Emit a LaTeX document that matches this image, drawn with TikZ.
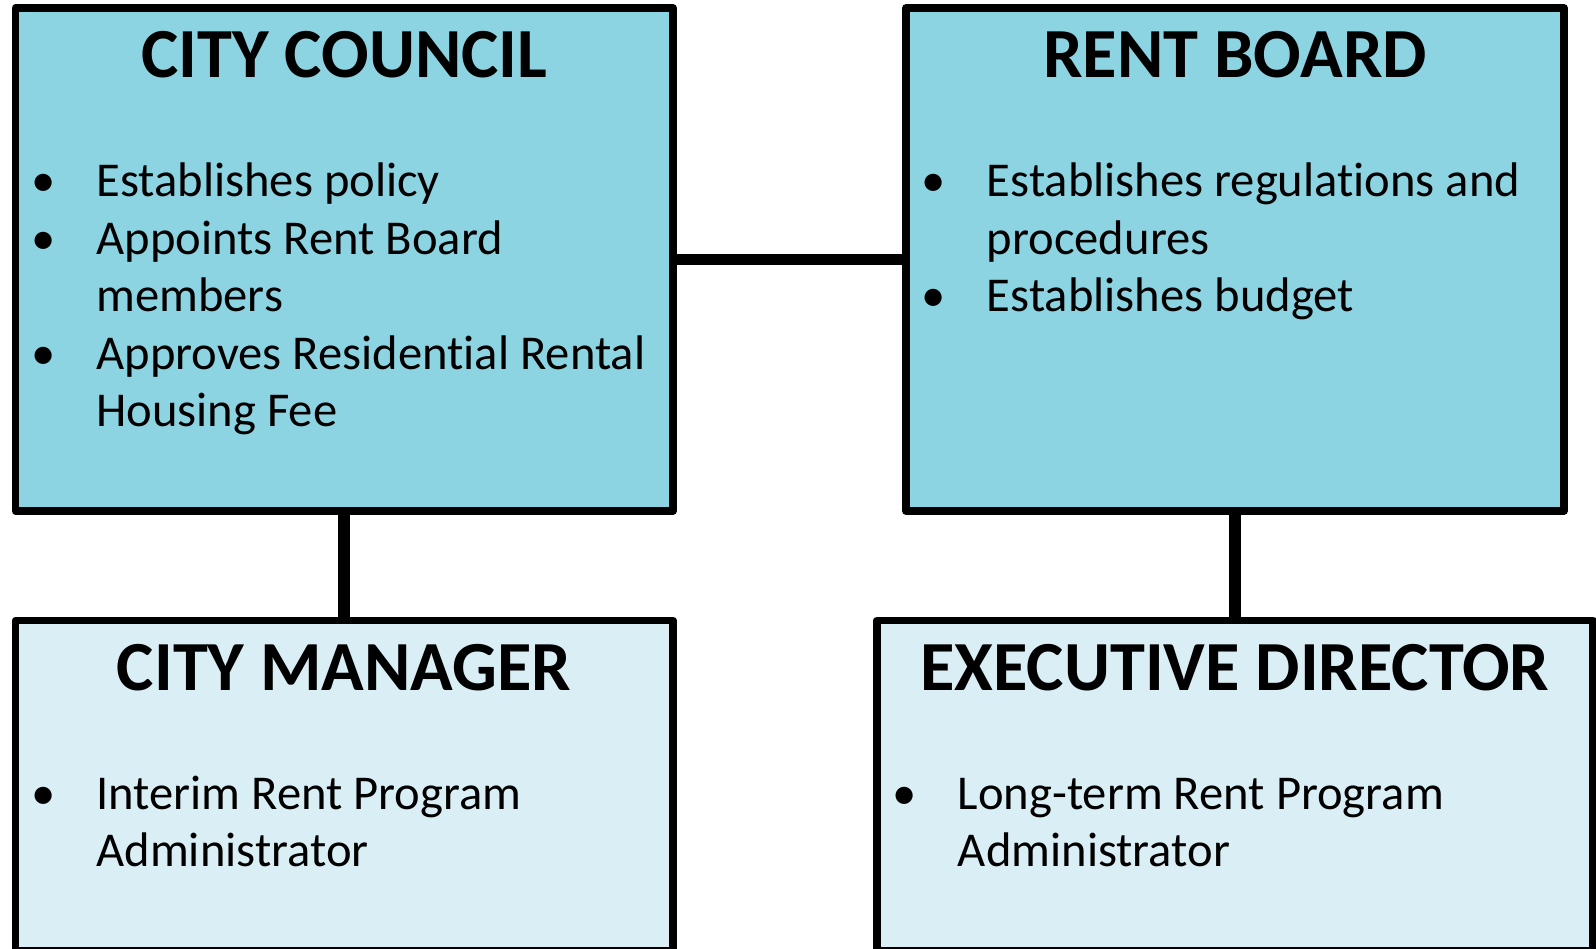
\documentclass[tikz,border=0pt]{standalone}
\usepackage{fontspec}
\setmainfont{Carlito}[Ligatures=NoCommon]
\usetikzlibrary{positioning}
\definecolor{boardFill}{HTML}{8CD4E2}
\definecolor{staffFill}{HTML}{DAEFF5}
\newcommand{\bul}{\makebox[27.5pt]{\textbullet}}
\tikzset{
  orgbox/.style={draw=black, line width=3.75pt, line join=round, rectangle,
    inner sep=0pt, outer sep=0pt},
  boardbox/.style={orgbox, fill=boardFill},
  staffbox/.style={orgbox, fill=staffFill},
  boxtitle/.style={anchor=base, inner sep=0pt, font=\bfseries\fontsize{35.2}{42}\selectfont},
  duties/.style={anchor=base west, inner sep=0pt, font=\fontsize{24.3}{28.75}\selectfont},
  link/.style={draw=black, line width=5.8pt},
}

\begin{document}
\begin{tikzpicture}[x=0.5pt, y=-0.5pt]
  \path[use as bounding box, clip] (0,0) rectangle (1596,948);

  % ===== Upper row: council and board =====
  \node[boardbox, minimum width=328.75pt, minimum height=251.5pt] (cc) at (344.25,259.5) {};
  \node[boardbox, minimum width=329pt, minimum height=251.5pt] (rb) at (1235,259.5) {};

  % ===== Lower row: runs past the page bottom =====
  \node[staffbox, minimum width=328.75pt, minimum height=165.25pt] (cm) at (344.25,785.75) {};
  \node[staffbox, minimum width=358pt, minimum height=165.25pt] (ed) at (1235,785.75) {};

  % titles
  \node[boxtitle] (cc-title) at ([yshift=-34.75pt]cc.north) {CITY COUNCIL};
  \node[boxtitle] (rb-title) at ([yshift=-34.75pt]rb.north) {RENT BOARD};
  \node[boxtitle] (cm-title) at ([yshift=-34.75pt]cm.north) {CITY MANAGER};
  \node[boxtitle] (ed-title) at ([yshift=-34.75pt]ed.north) {EXECUTIVE DIRECTOR};

  % bullet lists
  \node[duties] (cc-list) at ([yshift=-94.25pt]cc.north west) {%
    \begin{tabular}[t]{@{}l@{\hspace{12.75pt}}l@{}}
      \bul & Establishes policy\\
      \bul & Appoints Rent Board\\
           & members\\
      \bul & Approves Residential Rental\\
           & Housing Fee
    \end{tabular}};
  \node[duties] (rb-list) at ([yshift=-94.25pt]rb.north west) {%
    \begin{tabular}[t]{@{}l@{\hspace{12.75pt}}l@{}}
      \bul & Establishes regulations and\\
           & procedures\\
      \bul & Establishes budget
    \end{tabular}};
  \node[duties] (cm-list) at ([yshift=-94.25pt]cm.north west) {%
    \begin{tabular}[t]{@{}l@{\hspace{12.75pt}}l@{}}
      \bul & Interim Rent Program\\
           & Administrator
    \end{tabular}};
  \node[duties] (ed-list) at ([yshift=-94.25pt]ed.north west) {%
    \begin{tabular}[t]{@{}l@{\hspace{12.75pt}}l@{}}
      \bul & Long-term Rent Program\\
           & Administrator
    \end{tabular}};

  % connectors
  \draw[link] (cc.east) -- (rb.west);
  \draw[link] (cc.south) -- (cm.north);
  \draw[link] (rb.south) -- (ed.north);
\end{tikzpicture}
\end{document}
